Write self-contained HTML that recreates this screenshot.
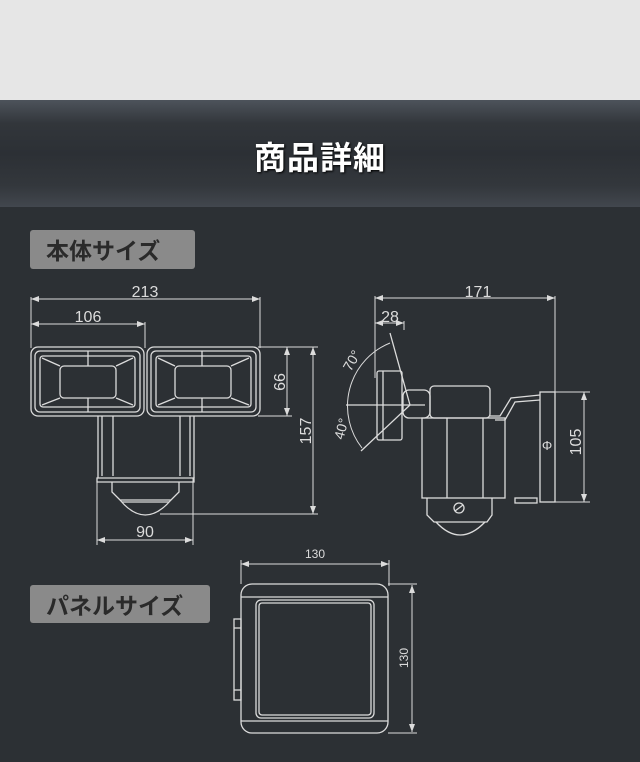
<!DOCTYPE html>
<html><head><meta charset="utf-8"><style>
html,body{margin:0;padding:0;}
body{width:640px;height:762px;background:#2c3034;position:relative;overflow:hidden;font-family:"Liberation Sans","Noto Sans CJK JP",sans-serif;}
.top{position:absolute;left:0;top:0;width:640px;height:100px;background:#e6e6e6;}
.band{position:absolute;left:0;top:100px;width:640px;height:107px;background:linear-gradient(#4d535b 0%,#32363b 22%,#2c3035 50%,#33373c 80%,#42474e 100%);}
.band div{position:absolute;left:0;width:640px;top:33px;text-align:center;color:#fff;font-weight:bold;font-size:32px;font-family:"Noto Sans CJK JP",sans-serif;letter-spacing:1px;text-shadow:1px 1px 2px #000;}
.lab{position:absolute;background:#8a8a8a;border-radius:3px;color:#2a2a2a;font-weight:bold;font-size:23px;font-family:"Noto Sans CJK JP",sans-serif;line-height:38px;padding-left:16px;box-sizing:border-box;}
svg{position:absolute;left:0;top:0;}
</style></head><body>
<div class="top"></div>
<div class="band"><div>商品詳細</div></div>
<div class="lab" style="left:30px;top:230px;width:165px;height:39px;">本体サイズ</div>
<div class="lab" style="left:30px;top:585px;width:180px;height:38px;">パネルサイズ</div>
<svg width="640" height="762" viewBox="0 0 640 762" fill="none" stroke="#dcdcdc" stroke-width="1">
<defs><marker id="a" markerWidth="8" markerHeight="6" refX="8" refY="3" orient="auto-start-reverse"><path d="M0,0 L8,3 L0,6z" fill="#dcdcdc" stroke="none"/></marker></defs>
<g font-family="Liberation Sans,sans-serif" font-size="16" fill="#dcdcdc" stroke="none">
<text x="145" y="297" text-anchor="middle">213</text>
<text x="88" y="322" text-anchor="middle">106</text>
<text x="145" y="537" text-anchor="middle">90</text>
<text transform="translate(285,382) rotate(-90)" text-anchor="middle">66</text>
<text transform="translate(311,431) rotate(-90)" text-anchor="middle">157</text>
<text x="478" y="297" text-anchor="middle">171</text>
<text x="390" y="322" text-anchor="middle">28</text>
<text transform="translate(581,442) rotate(-90)" text-anchor="middle">105</text>
<text transform="translate(356,363) rotate(-60)" text-anchor="middle" font-size="14">70°</text>
<text transform="translate(346,430) rotate(-75)" text-anchor="middle" font-size="14">40°</text>
<text x="547" y="450" text-anchor="middle" font-size="13">Φ</text>
<text x="315" y="558" text-anchor="middle" font-size="12">130</text>
<text transform="translate(408,658) rotate(-90)" text-anchor="middle" font-size="12">130</text>
</g>
<line x1="31" y1="299" x2="260" y2="299" marker-start="url(#a)" marker-end="url(#a)"/>
<line x1="31" y1="324" x2="145" y2="324" marker-start="url(#a)" marker-end="url(#a)"/>
<line x1="31" y1="297" x2="31" y2="348"/><line x1="145" y1="322" x2="145" y2="348"/><line x1="260" y1="297" x2="260" y2="348"/>
<line x1="287" y1="347" x2="287" y2="416" marker-start="url(#a)" marker-end="url(#a)"/>
<line x1="313" y1="347" x2="313" y2="514" marker-start="url(#a)" marker-end="url(#a)"/>
<line x1="258" y1="347" x2="318" y2="347"/><line x1="258" y1="416" x2="292" y2="416"/><line x1="160" y1="514" x2="318" y2="514"/>
<line x1="97" y1="540" x2="193" y2="540" marker-start="url(#a)" marker-end="url(#a)"/>
<line x1="97" y1="478" x2="97" y2="545"/><line x1="193" y1="478" x2="193" y2="545"/>
<g stroke-width="1.3">
<rect x="31" y="347" width="113" height="69" rx="7"/><rect x="35" y="351" width="105" height="61" rx="5"/><rect x="40" y="356" width="95" height="51" rx="3"/>
<rect x="60" y="366" width="56" height="32" rx="4"/>
<path d="M42 358 L60 366 M133 358 L116 366 M42 405 L60 398 M133 405 L116 398 M88 351 L88 366 M88 398 L88 412"/>
<rect x="147" y="347" width="113" height="69" rx="7"/><rect x="151" y="351" width="105" height="61" rx="5"/><rect x="156" y="356" width="95" height="51" rx="3"/>
<rect x="175" y="366" width="56" height="32" rx="4"/>
<path d="M158 358 L175 366 M249 358 L231 366 M158 405 L175 398 M249 405 L231 398 M202 351 L202 366 M202 398 L202 412"/>
<path d="M98 416 L98 478 M102 416 L102 476 M113 416 L113 476 M180 416 L180 476 M190 416 L190 476 M194 416 L194 478"/>
<path d="M97 478 L194 478 L194 482 L97 482 Z"/>
<path d="M112 482 L112 492 L120 500 L171 500 L179 492 L179 482"/>
<path d="M120 500 Q145 530 171 500"/>
<line x1="122" y1="502" x2="169" y2="502"/>
</g>
<line x1="375" y1="298" x2="555" y2="298" marker-start="url(#a)" marker-end="url(#a)"/>
<line x1="375" y1="323" x2="404" y2="323" marker-start="url(#a)" marker-end="url(#a)"/>
<line x1="375" y1="296" x2="375" y2="378"/><line x1="404" y1="321" x2="404" y2="330"/><line x1="555" y1="296" x2="555" y2="392"/>
<line x1="584" y1="392" x2="584" y2="502" marker-start="url(#a)" marker-end="url(#a)"/>
<line x1="555" y1="392" x2="590" y2="392"/><line x1="555" y1="502" x2="590" y2="502"/>
<g stroke-width="1.3">
<rect x="377" y="371" width="25" height="69" rx="2"/><line x1="383" y1="371" x2="383" y2="440"/>
<line x1="390" y1="333" x2="410" y2="405"/><line x1="410" y1="405" x2="361" y2="451"/>
<line x1="346" y1="405" x2="425" y2="405"/>
<path d="M390 343 A68 68 0 0 0 362 448" stroke-width="1"/>
<rect x="403" y="390" width="27" height="28" rx="6"/>
<rect x="430" y="386" width="60" height="32" rx="4"/>
<rect x="422" y="418" width="83" height="80"/><line x1="447" y1="418" x2="447" y2="498"/><line x1="483" y1="418" x2="483" y2="498"/>
<path d="M490 416 L500 416 L511 398 L540 395 M495 420 L505 420 L515 402 L540 400"/>
<rect x="540" y="392" width="15" height="110"/>
<rect x="515" y="498" width="22" height="5"/>
<path d="M427 498 L427 515 L434 522 L487 522 L492 515 L492 498"/>
<path d="M436 522 Q460 548 485 522"/>
<circle cx="459" cy="508" r="5"/><line x1="455" y1="511" x2="463" y2="505"/>
</g>
<line x1="241" y1="564" x2="389" y2="564" marker-start="url(#a)" marker-end="url(#a)"/>
<line x1="241" y1="560" x2="241" y2="584"/><line x1="389" y1="560" x2="389" y2="586"/>
<line x1="412" y1="585" x2="412" y2="732" marker-start="url(#a)" marker-end="url(#a)"/>
<line x1="388" y1="584" x2="417" y2="584"/><line x1="388" y1="733" x2="417" y2="733"/>
<g stroke-width="1.3">
<rect x="241" y="584" width="147" height="149" rx="11"/>
<line x1="241" y1="597" x2="388" y2="597"/><line x1="241" y1="721" x2="388" y2="721"/>
<rect x="256" y="600" width="118" height="118" rx="5"/><rect x="259" y="603" width="112" height="112" rx="3"/>
<rect x="234" y="619" width="7" height="81"/><line x1="234" y1="628" x2="241" y2="628"/><line x1="234" y1="690" x2="241" y2="690"/>
</g>
</svg>
</body></html>
